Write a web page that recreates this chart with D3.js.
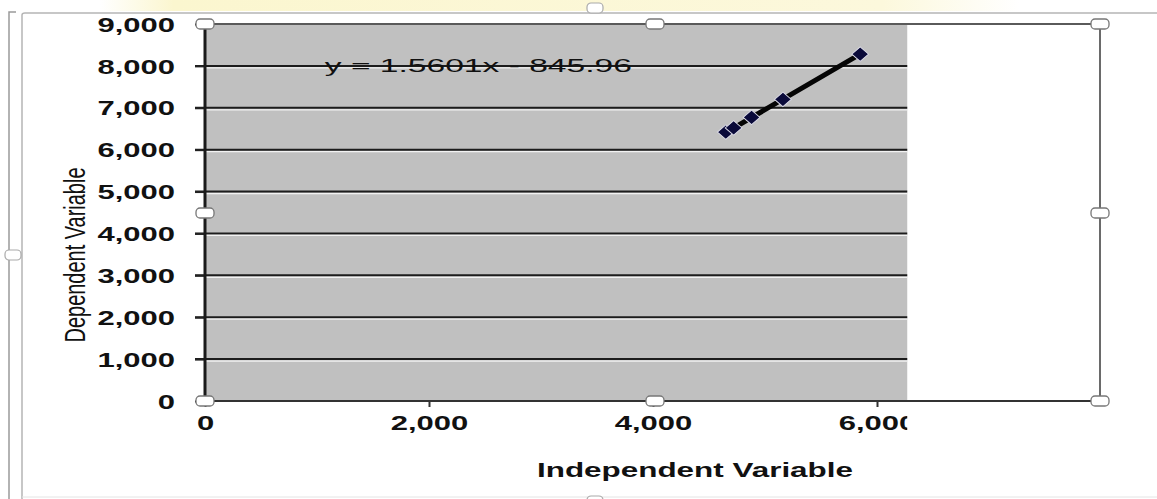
<!DOCTYPE html>
<html><head><meta charset="utf-8">
<script src="https://cdn.jsdelivr.net/npm/d3@7"></script>
<style>html,body{margin:0;padding:0;background:#fff;overflow:hidden}</style>
</head><body>
<svg id="c" width="1157" height="499"></svg>
<script>
// ---- data ----
const xValues = [4650, 4720, 4880, 5160, 5850];
const yValues = [6420, 6520, 6770, 7200, 8280];
const slope = 1.5601;
const intercept = -845.96;
const equationLabel = "y = 1.5601x - 845.96";
const yTicks = [0, 1000, 2000, 3000, 4000, 5000, 6000, 7000, 8000, 9000];
const xTicks = [0, 2000, 4000, 6000];
const xTitle = "Independent Variable";
const yTitle = "Dependent Variable";
const shadedEnd = 6270;

const svg = d3.select("#c");
const SX = 1.55; // horizontal stretch of the screenshot
const x = d3.scaleLinear().domain([0, 8000]).range([205, 1101]);
const y = d3.scaleLinear().domain([0, 9000]).range([401, 24]);

// top yellow band
const defs = svg.append("defs");
const g1 = defs.append("linearGradient").attr("id","yl").attr("x1",0).attr("x2",1);
g1.append("stop").attr("offset","0").attr("stop-color","#fff");
g1.append("stop").attr("offset","0.08").attr("stop-color","#fbf6cf");
g1.append("stop").attr("offset","0.85").attr("stop-color","#fcf8dc");
g1.append("stop").attr("offset","1").attr("stop-color","#fff");
svg.append("rect").attr("x",100).attr("y",0).attr("width",920).attr("height",11).attr("fill","url(#yl)");
const cp = defs.append("clipPath").attr("id","cp");
cp.append("rect").attr("x",0).attr("y",0).attr("width",x(shadedEnd)).attr("height",499);

// outer frame
const fr = svg.append("g").attr("fill","none");
fr.append("path").attr("d","M9,499V12H16").attr("stroke","#9a9a9a").attr("stroke-width",1.5);
fr.append("path").attr("d","M22,499V15Q22,13 25,13H1157").attr("stroke","#b5b5b5").attr("stroke-width",1.5);
fr.append("line").attr("x1",22).attr("x2",1157).attr("y1",497).attr("y2",497).attr("stroke","#e4e4e4");

// plot area
svg.append("rect").attr("x",x(0)).attr("y",y(9000)).attr("width",x(shadedEnd)-x(0)).attr("height",y(0)-y(9000)).attr("fill","#c0c0c0");

// gridlines
const gl = svg.append("g");
gl.selectAll("line.d").data(yTicks.filter(d=>d>0 && d<9000)).join("line")
  .attr("x1",x(0)-10).attr("x2",x(shadedEnd)).attr("y1",d=>y(d)).attr("y2",d=>y(d))
  .attr("stroke","#1c1c1c").attr("stroke-width",2);
gl.selectAll("line.w").data(yTicks.filter(d=>d>0 && d<9000)).join("line")
  .attr("x1",x(0)).attr("x2",x(shadedEnd)).attr("y1",d=>y(d)+2).attr("y2",d=>y(d)+2)
  .attr("stroke","#f2f2f2").attr("stroke-width",1.2);

// frame of plot
svg.append("line").attr("x1",x(0)).attr("x2",x(8000)-1).attr("y1",y(9000)).attr("y2",y(9000)).attr("stroke","#5a5a5a").attr("stroke-width",2);
svg.append("line").attr("x1",x(8000)-1).attr("x2",x(8000)-1).attr("y1",y(9000)).attr("y2",y(0)).attr("stroke","#6a6a6a").attr("stroke-width",2);

// axes
const yAxis = svg.append("g").attr("transform",`translate(${x(0)},0)`)
  .call(d3.axisLeft(y).tickValues(yTicks).tickSize(10).tickFormat(d3.format(",")));
yAxis.select(".domain").remove();
yAxis.selectAll(".tick line").attr("stroke","#222").attr("stroke-width",2);
yAxis.selectAll(".tick text").attr("x",-30/SX).attr("dy","0.36em")
  .attr("transform",`scale(${SX},1)`)
  .attr("font-family","Liberation Sans, Arial, sans-serif").attr("font-weight","bold")
  .attr("font-size",20).attr("fill","#111");
svg.append("line").attr("x1",x(0)).attr("x2",x(0)).attr("y1",y(9000)).attr("y2",y(0)).attr("stroke","#1a1a1a").attr("stroke-width",3);

const xAxis = svg.append("g").attr("transform",`translate(0,${y(0)})`).attr("clip-path","url(#cp)")
  .call(d3.axisBottom(x).tickValues(xTicks).tickSize(6).tickFormat(d3.format(",")));
xAxis.select(".domain").remove();
xAxis.selectAll(".tick line").attr("stroke","#333").attr("stroke-width",2);
xAxis.selectAll(".tick text").attr("y",15).attr("transform",`scale(${SX},1)`)
  .attr("text-anchor","middle")
  .attr("font-family","Liberation Sans, Arial, sans-serif").attr("font-weight","bold")
  .attr("font-size",20).attr("fill","#111");
svg.append("line").attr("x1",x(0)).attr("x2",x(8000)).attr("y1",y(0)).attr("y2",y(0)).attr("stroke","#333").attr("stroke-width",2);

// trendline
svg.append("line")
  .attr("x1",x(d3.min(xValues))).attr("y1",y(slope*d3.min(xValues)+intercept))
  .attr("x2",x(d3.max(xValues))).attr("y2",y(slope*d3.max(xValues)+intercept))
  .attr("stroke","#050505").attr("stroke-width",5).attr("stroke-linecap","round");

// markers
const pts = xValues.map((v,i)=>[v,yValues[i]]);
svg.append("g").selectAll("path").data(pts).join("path")
  .attr("d",d3.symbol(d3.symbolDiamond,95))
  .attr("transform",d=>`translate(${x(d[0])},${y(d[1])}) scale(1.6,0.8)`)
  .attr("fill","#0a0a3a").attr("stroke","#dcdce8").attr("stroke-width",0.8);

// equation
svg.append("text").attr("x",x(1070)).attr("y",y(8000)+6)
  .attr("font-family","Liberation Sans, Arial, sans-serif").attr("font-size",19).attr("fill","#111")
  .attr("textLength",307).attr("lengthAdjust","spacingAndGlyphs").text(equationLabel);

// titles
svg.append("text").attr("x",537).attr("y",477)
  .attr("font-family","Liberation Sans, Arial, sans-serif").attr("font-weight","bold").attr("font-size",20).attr("fill","#111")
  .attr("textLength",316).attr("lengthAdjust","spacingAndGlyphs").text(xTitle);
svg.append("text").attr("transform",`translate(85,255) scale(${SX},1) rotate(-90)`)
  .attr("text-anchor","middle")
  .attr("font-family","Liberation Sans, Arial, sans-serif").attr("font-size",19).attr("fill","#111")
  .attr("textLength",175).attr("lengthAdjust","spacingAndGlyphs").text(yTitle);

// selection handles
const handles = [[x(0),y(9000)],[655,y(9000)],[x(8000)-1,y(9000)],[x(0),213],[x(8000)-1,213],[x(0),y(0)],[655,y(0)],[x(8000)-1,y(0)]];
svg.append("g").selectAll("rect").data(handles).join("rect")
  .attr("x",d=>d[0]-9).attr("y",d=>d[1]-5).attr("width",18).attr("height",10).attr("rx",4)
  .attr("fill","#fff").attr("stroke","#777").attr("stroke-width",1.3);
const outerHandles = [[13,255],[595,8],[595,501]];
svg.append("g").selectAll("rect").data(outerHandles).join("rect")
  .attr("x",d=>d[0]-8).attr("y",d=>d[1]-5).attr("width",16).attr("height",10).attr("rx",4)
  .attr("fill","#fff").attr("stroke","#aaa").attr("stroke-width",1.2);
</script>
</body></html>
